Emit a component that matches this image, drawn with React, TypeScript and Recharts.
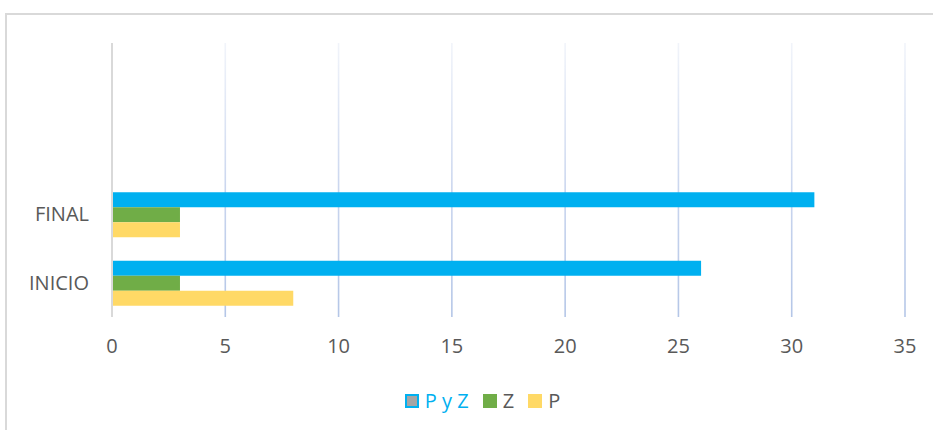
import React from "react";
import { BarChart, Bar, XAxis, YAxis, CartesianGrid } from "recharts";

// Rows from top to bottom; the two upper rows are empty.
const categories = ["", " ", "FINAL", "INICIO"];
const pyzValues = [null, null, 31, 26];
const zValues = [null, null, 3, 3];
const pValues = [null, null, 3, 8];
const xTicks = [0, 5, 10, 15, 20, 25, 30, 35];

const seriesNames = ["P y Z", "Z", "P"];
const seriesColors = ["#00b0f0", "#70ad47", "#ffd966"];

const data = categories.map((name, i) => ({
  name,
  pyz: pyzValues[i],
  z: zValues[i],
  p: pValues[i],
}));

const FONT = "'Open Sans', 'Noto Sans', sans-serif";
const TEXT = "#595959";

const PLOT_TOP = 43;
const PLOT_BOTTOM = 317;

export default function App() {
  return (
    <div style={{ position: "absolute", left: 0, top: 0, width: 933, height: 430, background: "#fff", overflow: "hidden", fontFamily: FONT }}>
      <svg width={0} height={0} style={{ position: "absolute" }}>
        <defs>
          <linearGradient id="gridFade" gradientUnits="userSpaceOnUse" x1={0} y1={PLOT_TOP} x2={0} y2={PLOT_BOTTOM}>
            <stop offset="0" stopColor="#f1f4fa" />
            <stop offset="0.55" stopColor="#c9d5ee" />
            <stop offset="1" stopColor="#b4c6e7" />
          </linearGradient>
        </defs>
      </svg>
      <div
        style={{
          position: "absolute",
          left: 5,
          top: 13,
          width: 960,
          height: 460,
          borderTop: "2px solid #d9d9d9",
          borderLeft: "2px solid #d9d9d9",
        }}
      />
      <div style={{ position: "absolute", left: 0, top: 0 }}>
        <BarChart
          width={933}
          height={430}
          data={data}
          layout="vertical"
          margin={{ top: PLOT_TOP, right: 28, bottom: 430 - PLOT_BOTTOM - 30, left: 0 }}
          barCategoryGap="18%"
          barGap={0}
        >
          <CartesianGrid horizontal={false} stroke="url(#gridFade)" strokeWidth={1.6} />
          <XAxis
            type="number"
            domain={[0, 35]}
            ticks={xTicks}
            axisLine={false}
            tickLine={false}
            tickSize={0}
            tickMargin={22}
            height={30}
            tick={{ fill: TEXT, fontSize: 20, fontFamily: FONT }}
          />
          <YAxis
            type="category"
            dataKey="name"
            width={112}
            axisLine={{ stroke: "#d9d9d9", strokeWidth: 2 }}
            tickLine={false}
            tickSize={0}
            tickMargin={23}
            tick={{ fill: TEXT, fontSize: 20, fontFamily: FONT }}
          />
          <Bar dataKey="pyz" name={seriesNames[0]} fill={seriesColors[0]} isAnimationActive={false} />
          <Bar dataKey="z" name={seriesNames[1]} fill={seriesColors[1]} isAnimationActive={false} />
          <Bar dataKey="p" name={seriesNames[2]} fill={seriesColors[2]} isAnimationActive={false} />
        </BarChart>
      </div>
      <div
        style={{
          position: "absolute",
          left: 16,
          width: 933,
          top: 389,
          display: "flex",
          justifyContent: "center",
          alignItems: "center",
          fontSize: 20,
          lineHeight: "24px",
        }}
      >
        {seriesNames.map((name, i) => (
          <div key={name} style={{ display: "flex", alignItems: "center", marginLeft: i === 0 ? 0 : 14 }}>
            <span
              style={{
                display: "inline-block",
                width: i === 0 ? 10 : 14,
                height: i === 0 ? 10 : 14,
                background: i === 0 ? "#a5a5a5" : seriesColors[i],
                border: i === 0 ? `2px solid ${seriesColors[0]}` : "none",
                marginRight: 6,
              }}
            />
            <span style={{ color: i === 0 ? seriesColors[0] : TEXT }}>{name}</span>
          </div>
        ))}
      </div>
    </div>
  );
}
